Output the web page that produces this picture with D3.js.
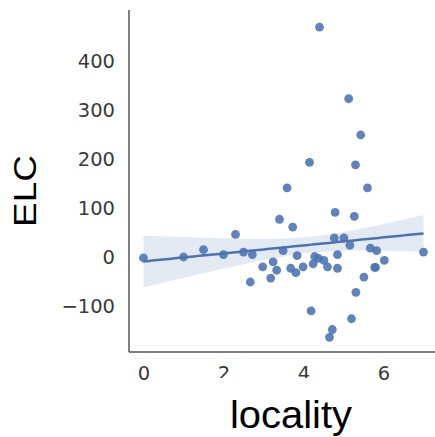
<!DOCTYPE html>
<html>
<head>
<meta charset="utf-8">
<script src="https://cdn.jsdelivr.net/npm/d3@7/dist/d3.min.js"></script>
<style>
  body { margin: 0; background: #fff; }
  svg { display: block; }
</style>
</head>
<body>
<div id="chart"></div>
<script>
// locality / ELC pairs
const locality = [0, 1.0, 1.5, 2.0, 2.3, 2.5, 2.72, 2.67, 2.98, 3.18,
  3.24, 3.33, 3.40, 3.49, 3.59, 3.68, 3.73, 3.81, 3.84, 3.99,
  4.15, 4.19, 4.24, 4.28, 4.37, 4.40, 4.51, 4.60, 4.65, 4.72,
  4.77, 4.79, 4.85, 4.85, 5.01, 5.13, 5.16, 5.20, 5.27, 5.30,
  5.31, 5.43, 5.51, 5.60, 5.67, 5.78, 5.80, 5.83, 6.02, 7.0];
const elc = [-2, 0, 15, 5, 46, 10, 5, -51, -20, -43,
  -10, -27, 77, 13, 141, -23, 61, -32, 3, -20,
  193, -110, -14, 1, -3, 469, -7, -20, -164, -148,
  39, 91, 5, -23, 39, 323, 24, -126, 83, 188,
  -72, 249, -41, 141, 18, -21, -21, 13, -7, 10];
const xTicks = [0, 2, 4, 6];
const yTicks = [-100, 0, 100, 200, 300, 400];

const width = 435, height = 437;
const color = '#4c72b0';

const data = locality.map((x, i) => ({ x: x, y: elc[i] }));

const svg = d3.select('#chart').append('svg')
  .attr('width', width)
  .attr('height', height);

// plot frame
const frame = { left: 129, bottom: 352, top: 10, right: 435 };

const xScale = d3.scaleLinear().domain([0, 7]).range([143.5, 423.5]);
const yScale = d3.scaleLinear().domain([-100, 400]).range([306, 61]);

//
// regression fit + confidence band
//
const n = data.length;
const xm = d3.mean(data, d => d.x);
const ym = d3.mean(data, d => d.y);
const sxx = d3.sum(data, d => (d.x - xm) ** 2);
const sxy = d3.sum(data, d => (d.x - xm) * (d.y - ym));
const slope = sxy / sxx;
const icpt = ym - slope * xm;
const sse = d3.sum(data, d => (d.y - icpt - slope * d.x) ** 2);
const s = Math.sqrt(sse / (n - 2));
const tval = 1.05; // band in the picture is narrower than a plain 95% interval

const xGrid = d3.range(0, 101).map(i => 7 * i / 100);
const band = xGrid.map(x => {
  const yh = icpt + slope * x;
  const se = s * Math.sqrt(1 / n + (x - xm) ** 2 / sxx);
  return { x: x, lo: yh - tval * se, hi: yh + tval * se, y: yh };
});

const plot = svg.append('g').attr('class', 'plot');

plot.append('path')
  .datum(band)
  .attr('fill', color)
  .attr('fill-opacity', 0.15)
  .attr('d', d3.area()
    .x(d => xScale(d.x))
    .y0(d => yScale(d.lo))
    .y1(d => yScale(d.hi)));

// points
plot.append('g')
  .selectAll('circle')
  .data(data)
  .enter().append('circle')
    .attr('cx', d => xScale(d.x))
    .attr('cy', d => yScale(d.y))
    .attr('r', 4.4)
    .attr('fill', color)
    .attr('fill-opacity', 0.88);

plot.append('path')
  .datum(band)
  .attr('fill', 'none')
  .attr('stroke', color)
  .attr('stroke-width', 2.5)
  .attr('d', d3.line()
    .x(d => xScale(d.x))
    .y(d => yScale(d.y)));

//
// spines and ticks
//
svg.append('line')
  .attr('x1', frame.left).attr('x2', frame.left)
  .attr('y1', frame.top).attr('y2', frame.bottom)
  .attr('stroke', '#555').attr('stroke-width', 1.5);
svg.append('line')
  .attr('x1', frame.left).attr('x2', frame.right)
  .attr('y1', frame.bottom).attr('y2', frame.bottom)
  .attr('stroke', '#555').attr('stroke-width', 1.5);

const yAxis = d3.axisLeft(yScale)
  .tickValues(yTicks)
  .tickSize(0)
  .tickPadding(14)
  .tickFormat(d => d < 0 ? '\u2212' + Math.abs(d) : d);

svg.append('g')
  .attr('class', 'y axis')
  .attr('transform', `translate(${frame.left}, 0)`)
  .call(yAxis)
  .call(g => g.select('.domain').remove())
  .selectAll('text')
    .attr('fill', '#3a3a3a')
    .style('font-family', 'DejaVu Sans, sans-serif')
    .style('font-size', '19.5px');

const xAxis = d3.axisBottom(xScale)
  .tickValues(xTicks)
  .tickSize(0)
  .tickPadding(14)
  .tickFormat(d3.format('d'));

svg.append('g')
  .attr('class', 'x axis')
  .attr('transform', `translate(0, ${frame.bottom})`)
  .call(xAxis)
  .call(g => g.select('.domain').remove())
  .selectAll('text')
    .attr('fill', '#3a3a3a')
    .style('font-family', 'DejaVu Sans, sans-serif')
    .style('font-size', '19.5px');

// the source image has the middle tick labels cut off at the bottom
[2, 4].forEach(v => {
  svg.append('rect')
    .attr('x', xScale(v) - 14)
    .attr('y', 378)
    .attr('width', 28)
    .attr('height', 10)
    .attr('fill', '#fff');
});

// axis titles
svg.append('text')
  .attr('x', 291)
  .attr('y', 428)
  .attr('text-anchor', 'middle')
  .attr('textLength', 122)
  .attr('lengthAdjust', 'spacingAndGlyphs')
  .style('font-family', 'Liberation Sans, Arial, sans-serif')
  .style('font-size', '38px')
  .attr('fill', '#000')
  .text('locality');

svg.append('text')
  .attr('transform', 'translate(36, 191) rotate(-90)')
  .attr('text-anchor', 'middle')
  .attr('textLength', 72)
  .attr('lengthAdjust', 'spacingAndGlyphs')
  .style('font-family', 'Liberation Sans, Arial, sans-serif')
  .style('font-size', '31px')
  .attr('fill', '#000')
  .text('ELC');
</script>
</body>
</html>
